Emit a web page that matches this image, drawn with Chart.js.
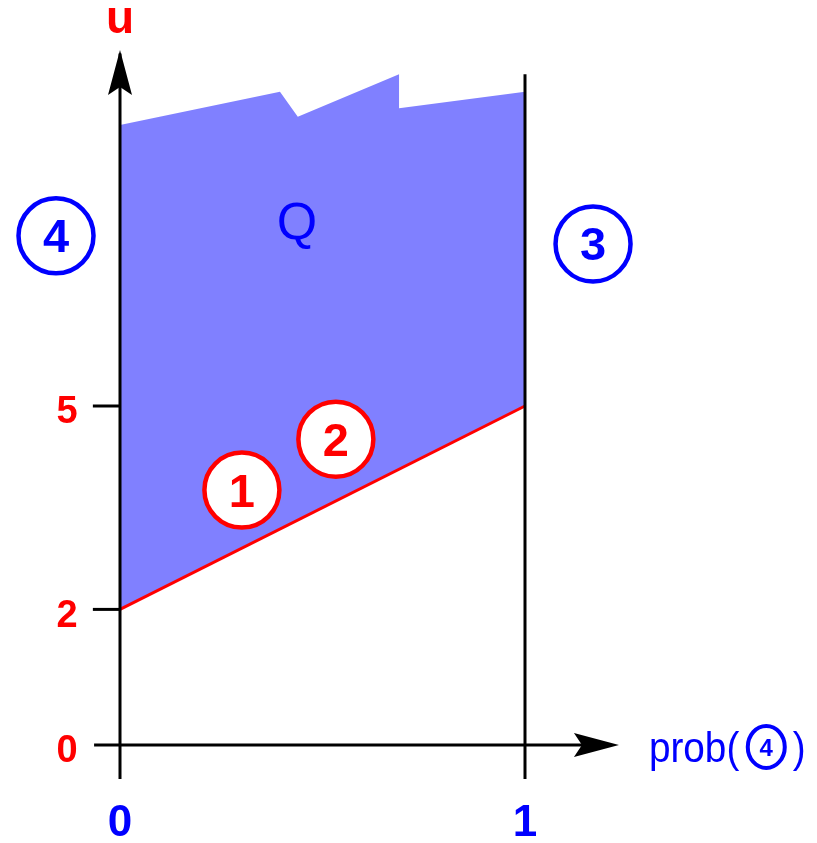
<!DOCTYPE html>
<html>
<head>
<meta charset="utf-8">
<script src="https://cdn.jsdelivr.net/npm/chart.js@4.4.1/dist/chart.umd.min.js"></script>
<style>
  html, body { margin: 0; padding: 0; background: #fff; }
  canvas { display: block; }
</style>
</head>
<body>
<canvas id="chart" width="817" height="843"></canvas>
<script>
// Axis ticks
const xTicks = [0, 1];
const uTicks = [0, 2, 5];

// Lower boundary of Q (red line)
const lowerX = [0, 1];
const lowerU = [2, 5];

// Upper (ragged) boundary of Q
const upperX = [0, 0.395, 0.439, 0.689, 0.689, 1];
const upperU = [9.145, 9.636, 9.267, 9.892, 9.39, 9.636];

// Circled markers
const markerText = ['4', '3', '1', '2'];
const markerX = [-0.158, 1.168, 0.301, 0.533];
const markerU = [7.51, 7.39, 3.76, 4.51];

const RED = '#ff0000';
const BLUE = '#0000ff';
const FONT = '"Liberation Sans", Arial, sans-serif';

const pts = (xs, ys) => xs.map((x, i) => ({ x, y: ys[i] }));

const lineStyle = (color, width) => ({
  borderColor: color,
  borderWidth: width,
  pointRadius: 0,
  fill: false,
  tension: 0,
  clip: false,
});

const tickMarks = uTicks.filter((u) => u !== 0).map((u) => ({
  label: 'tick ' + u,
  data: [{ x: -0.067, y: u }, { x: 0, y: u }],
  ...lineStyle('#000', 3),
}));

const datasets = [
  // circled markers (drawn on top)
  {
    label: 'markers',
    data: pts(markerX, markerU),
    showLine: false,
    pointRadius: 37.5,
    pointBorderWidth: 4.5,
    pointBackgroundColor: '#ffffff',
    pointBorderColor: [BLUE, BLUE, RED, RED],
    clip: false,
  },
  // x axis
  { label: 'x axis', data: [{ x: -0.064, y: 0 }, { x: 1.2, y: 0 }], ...lineStyle('#000', 3) },
  // u axis
  { label: 'u axis', data: [{ x: 0, y: -0.5 }, { x: 0, y: 10.2 }], ...lineStyle('#000', 3) },
  // prob = 1 edge
  { label: 'x = 1', data: [{ x: 1, y: -0.5 }, { x: 1, y: 9.892 }], ...lineStyle('#000', 3) },
  ...tickMarks,
  // red lower boundary
  { label: 'lower', data: pts(lowerX, lowerU), ...lineStyle(RED, 3) },
];

const lowerIndex = datasets.length - 1;
datasets.push({
  label: 'Q',
  data: pts(upperX, upperU),
  borderColor: 'rgba(0,0,0,0)',
  borderWidth: 1,
  pointRadius: 0,
  tension: 0,
  backgroundColor: '#8080ff',
  fill: lowerIndex,
});

// arrow tips of the two axes
const arrowTips = [
  { from: { x: 0, y: 9 }, to: { x: 0, y: 10.25 } },
  { from: { x: 1, y: 0 }, to: { x: 1.232, y: 0 } },
];

const drawText = (ctx, text, x, y, font, color, align) => {
  ctx.font = font;
  ctx.fillStyle = color;
  ctx.textAlign = align || 'center';
  ctx.textBaseline = 'alphabetic';
  ctx.fillText(text, x, y);
};

const annotations = {
  id: 'annotations',
  afterDatasetsDraw(c) {
    const ctx = c.ctx;
    const sx = c.scales.x;
    const sy = c.scales.y;
    ctx.save();

    // arrow heads
    arrowTips.forEach(({ from, to }) => {
      const x0 = sx.getPixelForValue(from.x), y0 = sy.getPixelForValue(from.y);
      const x1 = sx.getPixelForValue(to.x), y1 = sy.getPixelForValue(to.y);
      const a = Math.atan2(y1 - y0, x1 - x0);
      ctx.save();
      ctx.translate(x1, y1);
      ctx.rotate(a);
      ctx.beginPath();
      ctx.moveTo(0, 0);
      ctx.lineTo(-45, -12);
      ctx.lineTo(-37, 0);
      ctx.lineTo(-45, 12);
      ctx.closePath();
      ctx.fillStyle = '#000';
      ctx.fill();
      ctx.restore();
    });

    // u axis title and tick labels
    drawText(ctx, 'u', sx.getPixelForValue(0), sy.getPixelForValue(10.5), 'bold 46px ' + FONT, RED);
    uTicks.forEach((u) => {
      drawText(ctx, String(u), sx.getPixelForValue(-0.131), sy.getPixelForValue(u) + 17.5, 'bold 38px ' + FONT, RED);
    });
    xTicks.forEach((x) => {
      drawText(ctx, String(x), sx.getPixelForValue(x), sy.getPixelForValue(-1.342), 'bold 44px ' + FONT, BLUE);
    });

    // marker digits
    c.getDatasetMeta(0).data.forEach((pt, i) => {
      drawText(ctx, markerText[i], pt.x, pt.y + 16.5, 'bold 47px ' + FONT, i < 2 ? BLUE : RED);
    });

    // region name
    drawText(ctx, 'Q', sx.getPixelForValue(0.437), sy.getPixelForValue(7.46), '52px ' + FONT, BLUE);

    // x axis title: prob( (4) ), slightly condensed
    const tx = sx.getPixelForValue(1.306);
    const ty = sy.getPixelForValue(-0.25);
    const squeeze = 0.9;
    ctx.save();
    ctx.translate(tx, ty);
    ctx.scale(squeeze, 1);
    drawText(ctx, 'prob(', 0, 0, '43px ' + FONT, BLUE, 'left');
    const w = ctx.measureText('prob(').width * squeeze;
    ctx.restore();
    const cx = tx + w + 27;
    const cy = ty - 15;
    ctx.beginPath();
    ctx.ellipse(cx, cy, 18.5, 21, 0, 0, Math.PI * 2);
    ctx.strokeStyle = BLUE;
    ctx.lineWidth = 4;
    ctx.stroke();
    drawText(ctx, '4', cx, cy + 9, 'bold 24px ' + FONT, BLUE);
    ctx.save();
    ctx.translate(cx + 26.5, ty);
    ctx.scale(squeeze, 1);
    drawText(ctx, ')', 0, 0, '43px ' + FONT, BLUE, 'left');
    ctx.restore();

    ctx.restore();
  },
};

new Chart(document.getElementById('chart'), {
  type: 'line',
  data: { datasets },
  options: {
    responsive: false,
    animation: false,
    events: [],
    layout: { padding: 0, autoPadding: false },
    scales: {
      // 0 -> 120px, 1 -> 525px
      x: { type: 'linear', min: -0.2963, max: 1.72099, display: false },
      // 0 -> 745px, 5 -> 406px
      y: { type: 'linear', min: -1.44543, max: 10.9882, display: false },
    },
    plugins: {
      legend: { display: false },
      tooltip: { enabled: false },
      filler: { propagate: false },
    },
  },
  plugins: [annotations],
});
</script>
</body>
</html>
